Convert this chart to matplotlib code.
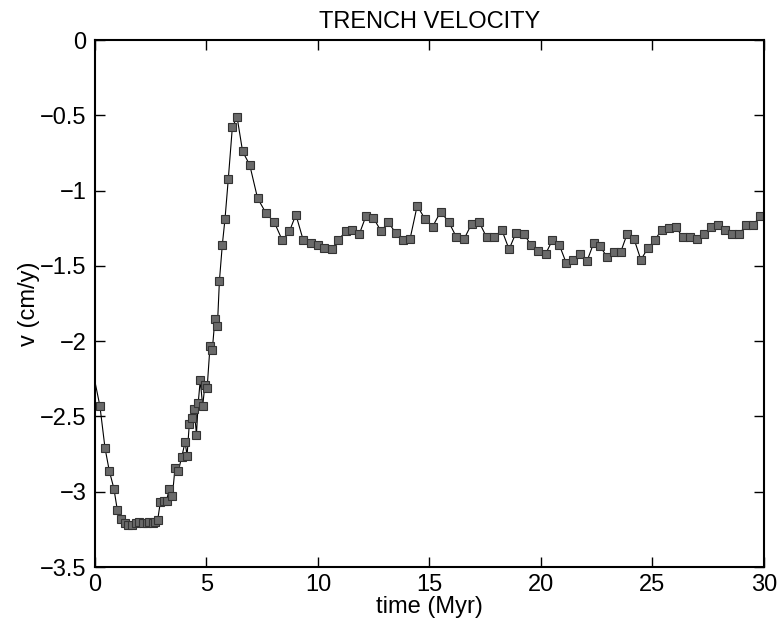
import matplotlib
matplotlib.use("Agg")
import matplotlib.pyplot as plt

# time (Myr) and trench velocity (cm/y)
time = [0.0, 0.22, 0.45, 0.64, 0.85, 1.00, 1.17, 1.35, 1.49, 1.67, 1.82, 1.99,
        2.17, 2.32, 2.43, 2.59, 2.69, 2.81, 2.93, 3.08, 3.21, 3.33, 3.47, 3.59,
        3.74, 3.89, 4.04, 4.13, 4.23, 4.33, 4.45, 4.55, 4.63, 4.72, 4.83, 4.93,
        5.03, 5.16, 5.26, 5.38, 5.49, 5.58, 5.71, 5.83, 5.98, 6.16, 6.37, 6.62,
        6.94, 7.29, 7.67, 8.04, 8.40, 8.72, 9.01, 9.34, 9.67, 9.99, 10.28, 10.61,
        10.91, 11.24, 11.54, 11.85, 12.15, 12.48, 12.83, 13.15, 13.48, 13.80,
        14.13, 14.45, 14.80, 15.14, 15.50, 15.87, 16.21, 16.56, 16.89, 17.23,
        17.56, 17.91, 18.24, 18.57, 18.88, 19.24, 19.55, 19.88, 20.21, 20.51,
        20.82, 21.13, 21.45, 21.76, 22.06, 22.36, 22.65, 22.96, 23.26, 23.57,
        23.86, 24.17, 24.48, 24.80, 25.10, 25.41, 25.74, 26.05, 26.35, 26.67,
        26.98, 27.29, 27.62, 27.94, 28.25, 28.57, 28.88, 29.19, 29.51, 29.82]
velocity = [-2.27, -2.43, -2.71, -2.86, -2.98, -3.12, -3.18, -3.21, -3.22, -3.22,
            -3.21, -3.20, -3.21, -3.21, -3.20, -3.21, -3.20, -3.19, -3.07, -3.06,
            -3.06, -2.98, -3.03, -2.84, -2.86, -2.77, -2.67, -2.76, -2.55, -2.51,
            -2.45, -2.62, -2.41, -2.26, -2.43, -2.29, -2.31, -2.03, -2.06, -1.85,
            -1.90, -1.60, -1.36, -1.19, -0.92, -0.58, -0.51, -0.74, -0.83, -1.05,
            -1.15, -1.21, -1.33, -1.27, -1.16, -1.33, -1.35, -1.36, -1.38, -1.39,
            -1.33, -1.27, -1.26, -1.29, -1.17, -1.18, -1.27, -1.21, -1.28, -1.33,
            -1.32, -1.10, -1.19, -1.24, -1.14, -1.21, -1.31, -1.32, -1.22, -1.21,
            -1.31, -1.31, -1.26, -1.39, -1.28, -1.29, -1.36, -1.40, -1.42, -1.33,
            -1.36, -1.48, -1.46, -1.42, -1.47, -1.35, -1.37, -1.44, -1.41, -1.41,
            -1.29, -1.32, -1.46, -1.38, -1.33, -1.26, -1.25, -1.24, -1.31, -1.31,
            -1.32, -1.29, -1.24, -1.23, -1.26, -1.29, -1.29, -1.23, -1.23, -1.17]

plt.rcParams["font.family"] = ["Liberation Sans", "DejaVu Sans"]

fig = plt.figure(figsize=(7.83, 6.28), dpi=100)
ax = fig.add_axes([0.1213, 0.0971, 0.8544, 0.8392])

ax.plot(time, velocity, color="black", linewidth=0.8,
        marker="s", markersize=5.8, markerfacecolor="#6a6a6a",
        markeredgecolor="#333333", markeredgewidth=0.8,
        markevery=list(range(1, len(time))))

ax.set_xlim(0, 30)
ax.set_ylim(-3.5, 0)
ax.set_xticks([0, 5, 10, 15, 20, 25, 30])
ax.set_yticks([-3.5, -3, -2.5, -2, -1.5, -1, -0.5, 0])
ax.set_yticklabels(["\u22123.5", "\u22123", "\u22122.5", "\u22122", "\u22121.5",
                    "\u22121", "\u22120.5", "0"])
ax.tick_params(direction="in", length=7, width=1, labelsize=17,
               top=True, right=True, pad=6)
ax.tick_params(axis="x", pad=5)
for s in ax.spines.values():
    s.set_linewidth(1.5)

ax.set_xlabel("time (Myr)", fontsize=17, labelpad=0)
ax.set_ylabel("v (cm/y)", fontsize=17, labelpad=0)
ax.set_title("TRENCH VELOCITY", fontsize=17, pad=9)

fig.savefig("out.png", dpi=100)
